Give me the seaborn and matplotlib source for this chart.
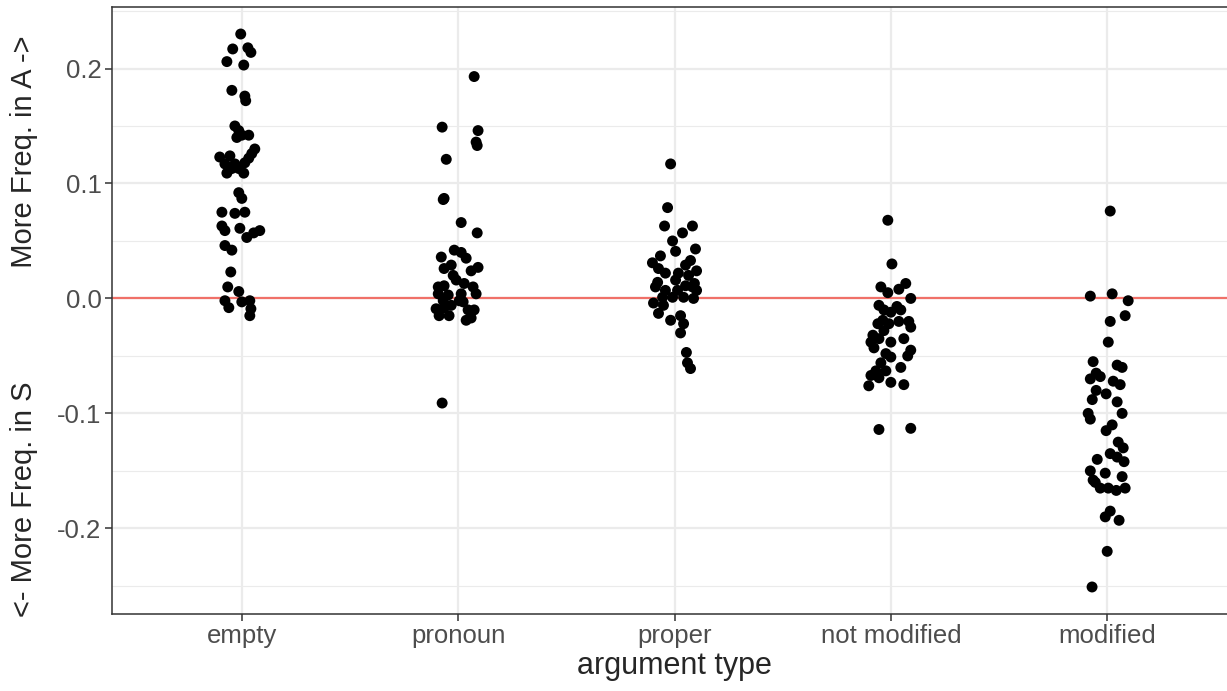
import numpy as np
import pandas as pd
import matplotlib
matplotlib.use('Agg')
import matplotlib.pyplot as plt
import seaborn as sns

# categories on the x axis
categories = ['empty', 'pronoun', 'proper', 'not modified', 'modified']

# values, with the horizontal jitter of each point
empty_vals = [0.230, 0.217, 0.218, 0.214, 0.206, 0.203, 0.181, 0.176, 0.172, 0.150,
              0.146, 0.142, 0.142, 0.140, 0.130, 0.123, 0.124, 0.126, 0.117, 0.117,
              0.118, 0.122, 0.109, 0.109, 0.113, 0.113, 0.092, 0.087, 0.075, 0.074,
              0.075, 0.063, 0.059, 0.061, 0.053, 0.057, 0.059, 0.046, 0.042, 0.023,
              0.010, 0.006, -0.002, -0.008, -0.003, -0.002, -0.009, -0.015]
empty_jit = [-0.005, -0.042, 0.028, 0.042, -0.069, 0.009, -0.046, 0.014, 0.018, -0.032,
             -0.014, 0.000, 0.032, -0.023, 0.060, -0.102, -0.055, 0.046, -0.078, -0.032,
             0.014, 0.032, -0.069, 0.009, -0.014, -0.046, -0.014, 0.000, -0.092, -0.032,
             0.014, -0.092, -0.078, -0.009, 0.023, 0.055, 0.083, -0.078, -0.046, -0.051,
             -0.065, -0.014, -0.078, -0.060, 0.000, 0.037, 0.042, 0.037]

pronoun_vals = [0.193, 0.149, 0.146, 0.136, 0.133, 0.121, 0.086, 0.087, 0.066, 0.057,
                0.036, 0.042, 0.040, 0.035, 0.027, 0.026, 0.029, 0.024, 0.020, 0.010,
                0.011, 0.013, 0.010, 0.004, 0.003, 0.004, 0.004, -0.009, -0.008, -0.003,
                -0.010, -0.015, -0.015, -0.019, -0.017, -0.002, -0.010, -0.091, 0.016,
                -0.002, -0.006]
pronoun_jit = [0.074, -0.074, 0.092, 0.083, 0.088, -0.055, -0.069, -0.065, 0.014, 0.088,
               -0.078, -0.018, 0.014, 0.037, 0.092, -0.065, -0.032, 0.060, -0.023, -0.092,
               -0.065, 0.028, 0.069, -0.092, -0.046, 0.014, 0.083, -0.102, -0.065, 0.023,
               0.074, -0.088, -0.042, 0.037, 0.060, -0.069, 0.046, -0.074, -0.009,
               0.005, -0.032]

proper_vals = [0.117, 0.079, 0.063, 0.063, 0.057, 0.050, 0.041, 0.031, 0.037, 0.029,
               0.033, 0.026, 0.022, 0.022, 0.020, 0.014, 0.016, 0.011, 0.010, 0.007,
               0.007, 0.010, 0.001, 0.001, 0.001, 0.000, -0.004, -0.006, -0.013, -0.019,
               -0.015, -0.022, -0.030, -0.056, -0.061, 0.024, 0.007, 0.013, 0.043, -0.047]
proper_jit = [-0.018, -0.032, -0.046, 0.083, 0.037, -0.009, 0.005, -0.102, -0.065, 0.051,
              0.074, -0.074, -0.042, 0.018, 0.065, -0.078, 0.005, 0.051, -0.088, -0.042,
              0.014, 0.083, -0.055, -0.009, 0.042, 0.088, -0.097, -0.051, -0.074, -0.018,
              0.028, 0.042, 0.028, 0.060, 0.074, 0.102, 0.102, 0.092, 0.097, 0.055]

notmod_vals = [0.068, 0.030, 0.010, 0.005, -0.006, -0.010, -0.012, -0.019, -0.022, -0.022,
               -0.028, -0.032, -0.038, -0.035, -0.038, -0.043, -0.048, -0.051, -0.056, -0.063,
               -0.063, -0.067, -0.069, -0.076, -0.073, -0.114, 0.013, 0.000, -0.010, -0.020,
               -0.025, -0.035, -0.045, -0.050, -0.060, -0.075, -0.113, -0.020, -0.007, 0.008]
notmod_jit = [-0.014, 0.005, -0.046, -0.014, -0.055, -0.032, 0.000, -0.037, -0.060, -0.009,
              -0.032, -0.083, -0.092, -0.055, 0.000, -0.078, -0.023, 0.000, -0.046, -0.069,
              -0.023, -0.092, -0.055, -0.102, 0.000, -0.055, 0.069, 0.092, 0.046, 0.083,
              0.092, 0.060, 0.092, 0.078, 0.046, 0.060, 0.092, 0.037, 0.028, 0.037]

modified_vals = [0.076, 0.002, 0.004, -0.002, -0.015, -0.020, -0.038, -0.055, -0.058, -0.060,
                 -0.065, -0.070, -0.068, -0.072, -0.075, -0.080, -0.083, -0.088, -0.090, -0.100,
                 -0.100, -0.105, -0.110, -0.115, -0.125, -0.130, -0.135, -0.140, -0.138, -0.142,
                 -0.150, -0.152, -0.155, -0.160, -0.165, -0.165, -0.167, -0.165, -0.158, -0.185,
                 -0.190, -0.193, -0.220, -0.251]
modified_jit = [0.014, -0.078, 0.023, 0.097, 0.083, 0.014, 0.005, -0.065, 0.046, 0.069,
                -0.051, -0.078, -0.032, 0.028, 0.060, -0.051, -0.005, -0.069, 0.046, -0.088,
                0.069, -0.078, 0.023, -0.005, 0.051, 0.074, 0.014, -0.046, 0.046, 0.078,
                -0.078, -0.009, 0.069, -0.055, -0.032, 0.005, 0.042, 0.083, -0.065, 0.014,
                -0.009, 0.055, 0.000, -0.070]

all_vals = [empty_vals, pronoun_vals, proper_vals, notmod_vals, modified_vals]
all_jit = [empty_jit, pronoun_jit, proper_jit, notmod_jit, modified_jit]

rows = []
for i, cat in enumerate(categories):
    for v, j in zip(all_vals[i], all_jit[i]):
        rows.append({'arg_type': cat, 'pos': i + j, 'diff': v})
df = pd.DataFrame(rows)

sns.set_style('white')
plt.rcParams['font.family'] = ['Liberation Sans', 'DejaVu Sans']

fig = plt.figure(figsize=(12.27, 6.91), dpi=100)
# panel runs past the right edge of the picture, as in the reference
ax = fig.add_axes([112 / 1227, 77 / 691, 1125 / 1227, 607 / 691])

# grid, ggplot theme_bw look
for y in np.arange(-0.25, 0.26, 0.1):
    ax.axhline(y, color='#EBEBEB', lw=0.8, zorder=0)
for y in np.arange(-0.2, 0.21, 0.1):
    ax.axhline(y, color='#EBEBEB', lw=1.6, zorder=0)
for i in range(len(categories)):
    ax.axvline(i, color='#EBEBEB', lw=1.6, zorder=0)

ax.axhline(0, color='#F07068', lw=1.6, zorder=1)

sns.scatterplot(data=df, x='pos', y='diff', color='black', s=62,
                edgecolor='none', linewidth=0, ax=ax, zorder=3)

ax.set_xlim(-0.6, 4.6)
ax.set_ylim(-0.2745, 0.2535)
ax.set_xticks(range(len(categories)))
ax.set_xticklabels(categories)
ax.set_yticks([-0.2, -0.1, 0.0, 0.1, 0.2])
ax.set_yticklabels(['-0.2', '-0.1', '0.0', '0.1', '0.2'])
ax.tick_params(axis='both', length=5, width=1.1, color='#333333',
               labelsize=18.5, labelcolor='#4D4D4D', pad=2.5, direction='out')
ax.tick_params(left=True, bottom=True)

for s in ax.spines.values():
    s.set_color('#333333')
    s.set_linewidth(1.1)

ax.set_xlabel('argument type', fontsize=22, labelpad=2)
ax.set_ylabel('<- More Freq. in S' + ' ' * 14 + 'More Freq. in A ->', fontsize=21, labelpad=6)
ax.yaxis.set_label_coords(-0.066, 0.474)

fig.savefig('out.png', dpi=100)
